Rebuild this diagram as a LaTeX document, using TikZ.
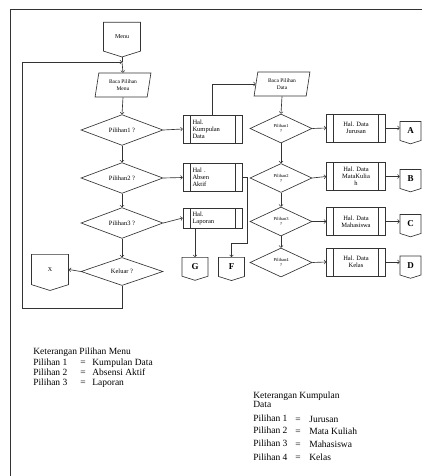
\documentclass[tikz,border=0pt]{standalone}
\usepackage{fontspec}
\setmainfont{Liberation Serif}
\usetikzlibrary{shapes.geometric,shapes.symbols,arrows}

\begin{document}
\begin{tikzpicture}[x=1pt, y=-1pt, >=to, line width=0.65pt, color=black!80, text=black]
\tikzstyle{menu}=[signal, signal to=south, signal pointer angle=145, draw,
                  minimum width=37pt, minimum height=31pt, inner sep=0pt,
                  font=\fontsize{6}{7}\selectfont]
\tikzstyle{konektor}=[signal, signal to=south, signal pointer angle=145, draw,
                  minimum width=21pt, minimum height=20pt, inner sep=0pt,
                  font=\fontsize{9}{10}\selectfont\bfseries]
\tikzstyle{baca}=[trapezium, trapezium left angle=78, trapezium right angle=102,
                  trapezium stretches=true, draw, minimum width=56pt,
                  minimum height=24pt, inner sep=0pt, align=center,
                  font=\fontsize{5.5}{6.3}\selectfont]
\tikzstyle{pilih}=[diamond, draw, minimum width=82pt, minimum height=28pt,
                  inner sep=0pt, font=\fontsize{6.5}{7}\selectfont]
\tikzstyle{pilihkecil}=[diamond, draw, minimum width=62pt, minimum height=29pt,
                  inner sep=0pt, align=center, font=\fontsize{4.5}{5}\selectfont]
\tikzstyle{proses}=[rectangle, draw, minimum width=59pt, minimum height=28pt,
                  inner sep=0pt, align=center, font=\fontsize{6.5}{7}\selectfont,
                  path picture={\draw ([xshift=7pt]path picture bounding box.north west)
                    -- ([xshift=7pt]path picture bounding box.south west)
                    ([xshift=-7pt]path picture bounding box.north east)
                    -- ([xshift=-7pt]path picture bounding box.south east);}]
\tikzstyle{proseskiri}=[proses, text width=40pt, align=left]
\tikzstyle{ket}=[anchor=base west, inner sep=0pt, font=\fontsize{9.5}{10}\selectfont]
\useasboundingbox (0,0) rectangle (422,476);

% batas halaman
\draw (422,9) -- (10,9) -- (10,476);

% menu utama
\node[menu, anchor=north] (menu) at (122,22) {Menu};
\coordinate (gabung) at (122,62);
\node[baca] (baca1) at (123,85) {Baca Pilihan\\Menu};
\node[pilih] (p1) at (122,130) {Pilihan1 ?};
\node[pilih] (p2) at (122,178) {Pilihan2 ?};
\node[pilih] (p3) at (122,223) {Pilihan3 ?};
\node[pilih] (keluar) at (122,271.5) {Keluar ?};
\node[menu, anchor=north] (x) at (50,254) {X};

\node[proseskiri] (kumpulan) at (212.5,129) {Hal.\\Kumpulan\\Data};
\node[proseskiri] (absen) at (212.5,177.5) {Hal .\\Absen\\Aktif};
\node[proseskiri, minimum height=20pt] (laporan) at (212.5,218) {Hal.\\Laporan};
\node[konektor, minimum width=26pt, anchor=north] (g) at (195,257) {G};
\node[konektor, minimum width=26pt, anchor=north] (f) at (231.5,257) {F};

% kumpulan data
\node[baca] (baca2) at (282,84) {Baca Pilihan\\Data};
\node[pilihkecil] (q1) at (281,128.5) {Pilihan1\\?};
\node[pilihkecil] (q2) at (281,178) {Pilihan2\\?};
\node[pilihkecil] (q3) at (281,221.5) {Pilihan3\\?};
\node[pilihkecil] (q4) at (281,262.5) {Pilihan4\\?};
\node[proses] (jurusan) at (356,128) {Hal. Data\\Jurusan};
\node[proses] (matkul) at (356,176.5) {Hal. Data\\MataKulia\\h};
\node[proses] (mhs) at (356,221.5) {Hal. Data\\Mahasiswa};
\node[proses] (kelas) at (356,262) {Hal. Data\\Kelas};
\node[konektor] (a) at (410.5,131) {A};
\node[konektor] (b) at (410.5,179) {B};
\node[konektor] (c) at (410.5,224) {C};
\node[konektor] (d) at (410.5,265.5) {D};

% alur menu
\draw (menu.south) -- (gabung);
\draw[->] (gabung) -- (baca1.north);
\draw[->] (baca1.south) -- (p1.north);
\draw[->] (p1.south) -- (p2.north);
\draw[->] (p2.south) -- (p3.north);
\draw[->] (p3.south) -- (keluar.north);
\draw[->] (p1.east) -- (kumpulan.west);
\draw[->] (p2.east) -- (absen.west);
\draw[->] (p3.east) -- (laporan.west);
\draw[->] (keluar.west) -- (x.east);
\draw[->] (keluar.south) -- (122,308) -- (22,308) -- (22,62) -- (gabung);
\draw[->] (laporan.south -| g.north) -- (g.north);
\draw[->] (absen.east) -- ++(5,0) -- ++(0,66) -| (f.north);
\draw[->] (kumpulan.north) |- (baca2.west);

% alur kumpulan data
\draw[->] (baca2.south) -- (q1.north);
\draw[->] (q1.south) -- (q2.north);
\draw[->] (q2.south) -- (q3.north);
\draw[->] (q3.south) -- (q4.north);
\draw[->] (q1.east) -- (jurusan.west);
\draw[->] (q2.east) -- (matkul.west);
\draw[->] (q3.east) -- (mhs.west);
\draw[->] (q4.east) -- (kelas.west);
\draw[->] (jurusan.east) -- (jurusan.east -| a.west);
\draw[->] (matkul.east) -- (matkul.east -| b.west);
\draw[->] (mhs.east) -- (mhs.east -| c.west);
\draw[->] (kelas.east) -- (kelas.east -| d.west);

% keterangan
\node[ket] (k0) at (33,354) {Keterangan Pilihan Menu};
\node[ket] (k1) at (33,365) {Pilihan 1};
\node[ket] (k2) at (33,375) {Pilihan 2};
\node[ket] (k3) at (33,385) {Pilihan 3};
\node[ket] (e1) at (80,365) {=};
\node[ket] (e2) at (80,375) {=};
\node[ket] (e3) at (80,385) {=};
\node[ket] (m1) at (92,365) {Kumpulan Data};
\node[ket] (m2) at (92,375) {Absensi Aktif};
\node[ket] (m3) at (92,385) {Laporan};

\node[ket] (d0) at (253,398) {Keterangan Kumpulan};
\node[ket] (d00) at (253,407) {Data};
\node[ket] (d1) at (253,421) {Pilihan 1};
\node[ket] (d2) at (253,433) {Pilihan 2};
\node[ket] (d3) at (253,446) {Pilihan 3};
\node[ket] (d4) at (253,460) {Pilihan 4};
\node[ket] (f1) at (295,422) {=};
\node[ket] (f2) at (295,434) {=};
\node[ket] (f3) at (295,447) {=};
\node[ket] (f4) at (295,460) {=};
\node[ket] (n1) at (309,422) {Jurusan};
\node[ket] (n2) at (309,434) {Mata Kuliah};
\node[ket] (n3) at (309,447) {Mahasiswa};
\node[ket] (n4) at (309,460) {Kelas};
\end{tikzpicture}
\end{document}
